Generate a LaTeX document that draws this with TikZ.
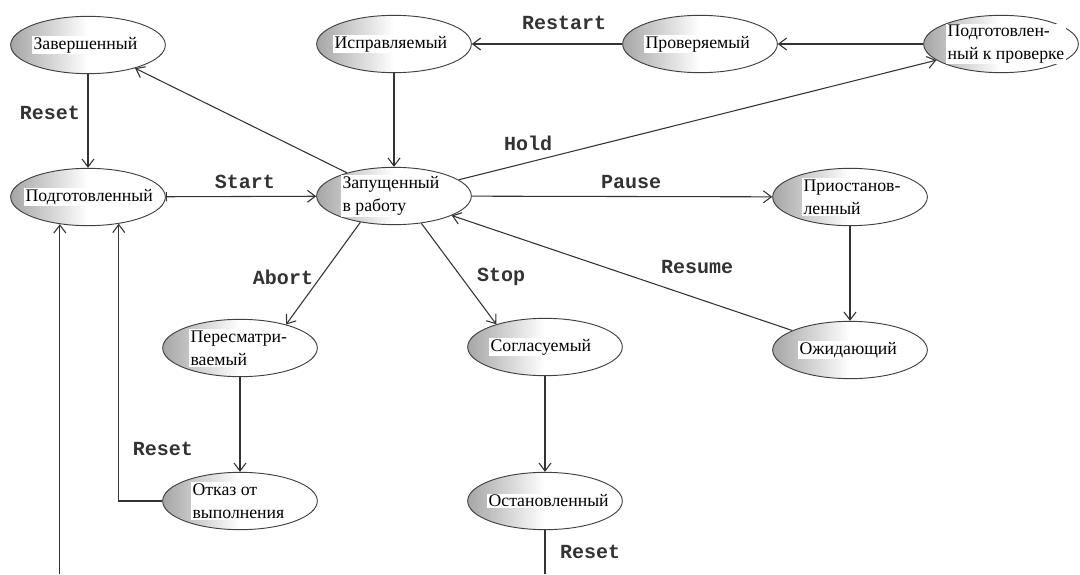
\documentclass[tikz,border=0pt]{standalone}
\usepackage{fontspec}
\setmainfont{Liberation Serif}
\newfontfamily\monob{Liberation Mono}
\usetikzlibrary{arrows.meta,shapes.geometric}
\begin{document}
\begin{tikzpicture}[x=0.75pt,y=-0.75pt,
  st/.style={ellipse, draw=black!75, line width=0.7pt, minimum width=116pt, minimum height=43pt, inner sep=0pt, left color=gray!70, right color=white, middle color=white},
  txt/.style={anchor=west, fill=white, inner sep=1pt, align=left, font=\fontsize{13.3}{17}\selectfont},
  lab/.style={font=\monob\bfseries\fontsize{15}{16}\selectfont, text=black!80},
  arr/.style={draw=black!80, line width=0.8pt, -{Straight Barb[length=6pt,width=9pt]}},
  ln/.style={draw=black!80, line width=0.8pt}]
\fill[white] (0,0) rectangle (1080,574);
\useasboundingbox (0,0) rectangle (1080,574);

% states
\node[st] (zav) at (88,45) {};
\node[txt] (zavT) at (32,45) {Завершенный};
\node[st] (isp) at (394,44) {};
\node[txt] (ispT) at (333,44) {Исправляемый};
\node[st] (pro) at (700,44) {};
\node[txt] (proT) at (644,44) {Проверяемый};
\node[st] (ppr) at (1001,44) {};
\node[txt] (pprT) at (946,44) {Подготовлен-\\ный к проверке};
\node[st] (pod) at (88,197) {};
\node[txt] (podT) at (24,197) {Подготовленный};
\node[st] (zap) at (394,196) {};
\node[txt] (zapT) at (341,196) {Запущенный\\в работу};
\node[st] (pri) at (850,197) {};
\node[txt] (priT) at (802,197) {Приостанов-\\ленный};
\node[st] (per) at (240,348) {};
\node[txt] (perT) at (189,348) {Пересматри-\\ваемый};
\node[st] (sog) at (545,347) {};
\node[txt] (sogT) at (489,347) {Согласуемый};
\node[st] (ozh) at (850,350) {};
\node[txt] (ozhT) at (798,350) {Ожидающий};
\node[st] (otk) at (240,501) {};
\node[txt] (otkT) at (191,501) {Отказ от\\выполнения};
\node[st] (ost) at (545,501) {};
\node[txt] (ostT) at (487,501) {Остановленный};

\coordinate (bot) at (60,574);

% transitions
\draw[arr] (zav) -- (pod);
\draw[arr, {Bar[width=7pt]}-{Straight Barb[length=6pt,width=9pt]}] (pod) -- (zap);
\draw[arr] (zap) -- (zav);
\draw[arr] (isp) -- (zap);
\draw[arr] (pro) -- (isp);
\draw[arr] (ppr) -- (pro);
\draw[arr] (zap) -- (ppr);
\draw[arr] (zap) -- (pri);
\draw[arr] (pri) -- (ozh);
\draw[arr] (ozh) -- (zap);
\draw[arr] (zap.218) -- (per.27);
\draw[arr] (zap.-45) -- (sog.155);
\draw[arr] (per) -- (otk);
\draw[arr] (sog) -- (ost);
\draw[arr] (otk.west) -| (pod.-41);
\draw[arr] (pod.-136 |- bot) -- (pod.-136);
\draw[ln] (ost.south) -- (ost.south |- bot);

% labels
\node[lab] (l1) at (50,113) {Reset};
\node[lab] (l2) at (245,182) {Start};
\node[lab] (l3) at (564,23) {Restart};
\node[lab] (l4) at (528,143) {Hold};
\node[lab] (l5) at (631,182) {Pause};
\node[lab] (l6) at (697,267) {Resume};
\node[lab] (l7) at (283,277) {Abort};
\node[lab] (l8) at (501,277) {Stop};
\node[lab] (l9) at (163,449) {Reset};
\node[lab] (l10) at (590,552) {Reset};
\end{tikzpicture}
\end{document}
